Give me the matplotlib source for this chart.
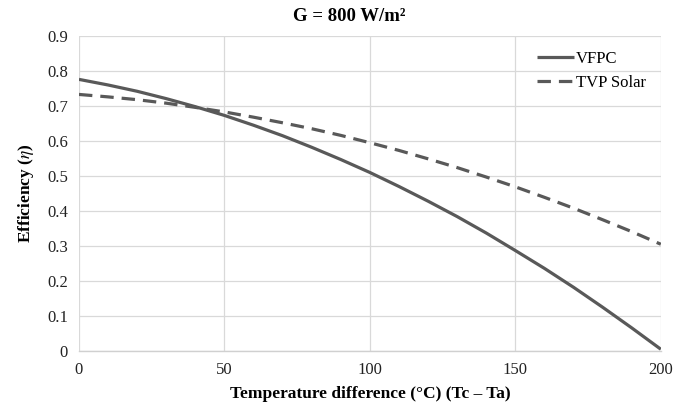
import numpy as np
import matplotlib.pyplot as plt

# temperature difference (Tc - Ta), degC
temp_diff = [0, 10, 20, 30, 40, 50, 60, 70, 80, 90, 100,
             110, 120, 130, 140, 150, 160, 170, 180, 190, 200]

# efficiency
vfpc = [0.776, 0.760, 0.742, 0.721, 0.698, 0.673, 0.645, 0.615, 0.582, 0.547, 0.510,
        0.470, 0.428, 0.384, 0.337, 0.287, 0.236, 0.182, 0.125, 0.066, 0.005]
tvp_solar = [0.733, 0.726, 0.718, 0.708, 0.696, 0.683, 0.668, 0.652, 0.635, 0.616, 0.595,
             0.573, 0.549, 0.524, 0.497, 0.469, 0.439, 0.408, 0.375, 0.341, 0.305]

x_ticks = [0, 50, 100, 150, 200]
y_ticks = [0, 0.1, 0.2, 0.3, 0.4, 0.5, 0.6, 0.7, 0.8, 0.9]

plt.rcParams["font.family"] = ["Liberation Serif", "DejaVu Serif"]
plt.rcParams["mathtext.fontset"] = "stix"

fig = plt.figure(figsize=(6.75, 4.07), dpi=100)
ax = fig.add_axes([0.117, 0.1376, 0.862, 0.774])

line_col = "#595959"
ax.plot(temp_diff, vfpc, color=line_col, lw=2.3, label="VFPC", solid_capstyle="butt")
ax.plot(temp_diff, tvp_solar, color=line_col, lw=2.3, ls=(0, (4.2, 2.5)), label="TVP Solar")

ax.set_xlim(0, 200)
ax.set_ylim(0, 0.9)
ax.set_xticks(x_ticks)
ax.set_yticks(y_ticks)
ax.set_yticklabels([f"{v:g}" for v in y_ticks])
ax.tick_params(length=0, labelsize=12, colors="#222222", pad=8)
ax.grid(True, color="#d9d9d9", lw=0.9)
ax.set_axisbelow(True)
for side in ["top", "right", "left"]:
    ax.spines[side].set_visible(False)
ax.spines["bottom"].set_color("#d0d0d0")
ax.spines["bottom"].set_linewidth(1.0)

# title is centred on the whole chart, not the plot area
fig.text(0.517, 0.96, "G = 800 W/m²", fontsize=13.5, fontweight="bold",
         ha="center", va="center")
ax.set_xlabel("Temperature difference (°C) (Tc – Ta)", fontsize=12.5, fontweight="bold", labelpad=6)
ax.set_ylabel("Efficiency ($\\eta$)", fontsize=12.5, fontweight="bold", labelpad=8)

leg = ax.legend(loc="upper right", frameon=False, fontsize=12, handlelength=2.2,
                handletextpad=0.1, borderaxespad=0.3, labelspacing=0.5,
                bbox_to_anchor=(0.994, 0.99))

fig.savefig("out.png", dpi=100)
